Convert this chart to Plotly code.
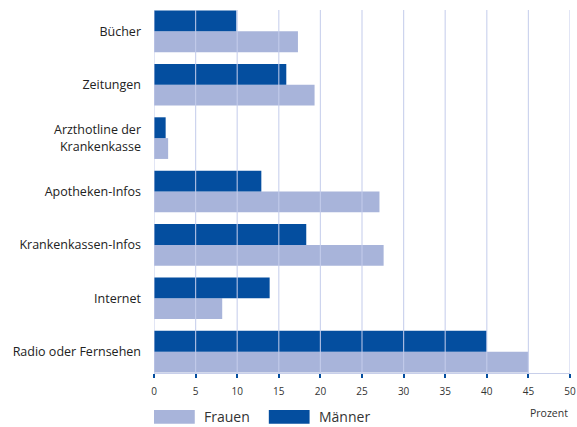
import plotly.graph_objects as go

# categories top to bottom as in the picture
categories = ["Bücher", "Zeitungen", "Arzthotline der<br>Krankenkasse", "Apotheken-Infos",
              "Krankenkassen-Infos", "Internet", "Radio oder Fernsehen"]
maenner = [9.9, 15.9, 1.4, 12.9, 18.3, 13.9, 40.0]
frauen = [17.3, 19.3, 1.7, 27.1, 27.6, 8.2, 45.0]
x_ticks = [0, 5, 10, 15, 20, 25, 30, 35, 40, 45, 50]

DARK = "#044E9F"
LIGHT = "#A8B4DA"
GRID = "#C8CFEA"
FONT = "Open Sans"

fig = go.Figure()
# Frauen first -> drawn in the lower half of each group
fig.add_trace(go.Bar(y=categories, x=frauen, orientation="h", name="Frauen",
                     marker=dict(color=LIGHT, line=dict(width=0))))
fig.add_trace(go.Bar(y=categories, x=maenner, orientation="h", name="Männer",
                     marker=dict(color=DARK, line=dict(width=0))))

fig.update_layout(
    width=577, height=427,
    margin=dict(l=154, r=7, t=10, b=54),
    barmode="group", bargap=0.22, bargroupgap=0,
    plot_bgcolor="white", paper_bgcolor="white",
    showlegend=False,
    font=dict(family=FONT, color="#333333"),
)
fig.update_xaxes(range=[0, 50], tickvals=x_ticks, showgrid=False, zeroline=False,
                 automargin=False,
                 ticks="outside", ticklen=4, tickwidth=1.5, tickcolor=DARK,
                 ticklabelstandoff=5,
                 showline=True, linecolor=GRID, linewidth=1,
                 tickfont=dict(size=10, color="#333333"))
fig.update_yaxes(categoryorder="array", categoryarray=categories[::-1],
                 range=[-0.4, 6.4], showgrid=False, zeroline=False,
                 automargin=False, ticks="", ticklabelstandoff=12,
                 tickfont=dict(size=12.5, color="#222222"))

# vertical grid lines drawn over the bars, like in the original
for v in x_ticks:
    fig.add_shape(type="line", xref="x", yref="paper", x0=v, x1=v, y0=0, y1=1,
                  line=dict(color="rgba(196,205,235,0.85)", width=1.2), layer="above")

fig.add_annotation(text="Prozent", xref="paper", yref="paper", x=1.0, y=-0.085,
                   xanchor="right", yanchor="top", showarrow=False,
                   font=dict(size=10.5, color="#333333"))

# legend with wide swatches, bottom left
legend_items = [("Frauen", LIGHT, 0.0), ("Männer", DARK, 0.276)]
for name, col, x0 in legend_items:
    fig.add_shape(type="rect", xref="paper", yref="paper", x0=x0, x1=x0 + 0.098,
                  y0=-0.140, y1=-0.102, fillcolor=col, line=dict(width=0))
    fig.add_annotation(text=name, xref="paper", yref="paper", x=x0 + 0.115, y=-0.121,
                       xanchor="left", yanchor="middle", showarrow=False,
                       font=dict(size=14, color="#333333"))

fig.write_html("out.html", config={"displayModeBar": False},
               post_script="document.body.style.margin='0';")
